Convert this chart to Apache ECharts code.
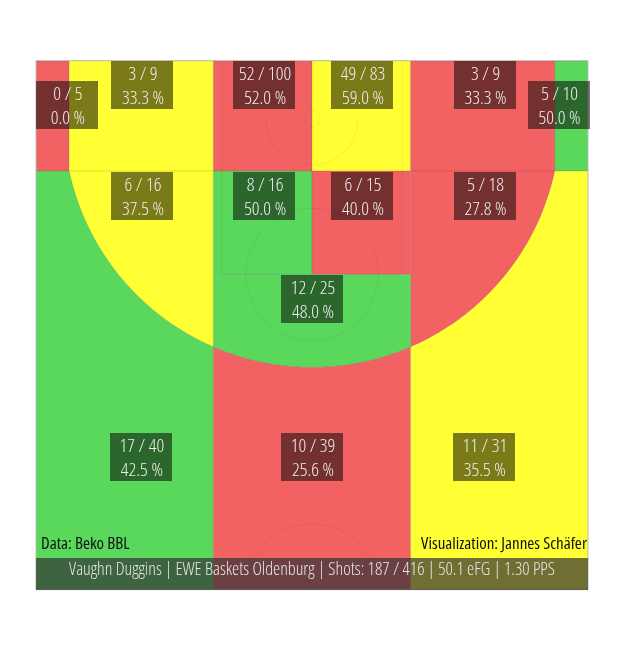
<!DOCTYPE html>
<html><head><meta charset="utf-8">
<script src="https://cdn.jsdelivr.net/npm/echarts@6/dist/echarts.min.js"></script>
<style>html,body{margin:0;padding:0;background:#fff}#c{width:624px;height:654px}</style>
</head><body><div id="c"></div>
<script>
// ---------- data ----------
const zones = ['Left Corner 3','Left Baseline 2','Left Block','Right Block','Right Baseline 2','Right Corner 3',
  'Left Wing 2','Left Elbow','Right Elbow','Right Wing 2','Top Key 2','Left Wing 3','Top 3','Right Wing 3'];
const made     = [0, 3, 52, 49, 3, 5, 6, 8, 6, 5, 12, 17, 10, 11];
const attempts = [5, 9, 100, 83, 9, 10, 16, 16, 15, 18, 25, 40, 39, 31];
const isThree  = [1, 0, 0, 0, 0, 1, 0, 0, 0, 0, 0, 1, 1, 1];
const rating   = ['below','average','below','average','below','above','average','above','below','below','above','above','below','average'];
const player = 'Vaughn Duggins';
const team = 'EWE Baskets Oldenburg';
const pps = '1.30';
const sourceText = 'Data: Beko BBL';
const creditText = 'Visualization: Jannes Schäfer';

// ---------- condensed text rendering (canvas font-stretch) ----------
(function () {
  const d = Object.getOwnPropertyDescriptor(CanvasRenderingContext2D.prototype, 'font');
  if (!d) return;
  Object.defineProperty(CanvasRenderingContext2D.prototype, 'font', {
    configurable: true,
    get() { return d.get.call(this); },
    set(v) { d.set.call(this, v); if ('fontStretch' in this) this.fontStretch = /condensed/.test(v) ? 'condensed' : 'normal'; }
  });
})();

// ---------- styles / geometry ----------
const FONT = (size) => 'condensed 300 ' + size + 'px "Open Sans", sans-serif';
const FONT_REG = (size) => 'condensed 400 ' + size + 'px "Open Sans", sans-serif';
const ratingColor = {below:'#F26263', average:'#FFFF33', above:'#5AD85C'};
const W = 15, L = 14.375, HX = 7.5, HY = 1.575, R3 = 6.75, CX = 0.9, CY = 2.99, XL = 4.82, XR = 10.18, FT = 5.8;
function ang(x, y) { return Math.atan2(y - HY, x - HX); }
const tCL = ang(CX, CY), tCR = ang(W - CX, CY);
const tL = Math.acos((XL - HX) / R3), tR = Math.acos((XR - HX) / R3);
function arc(t0, t1) {
  const n = 60, pts = [];
  for (let k = 0; k <= n; k++) { const t = t0 + (t1 - t0) * k / n; pts.push([HX + R3 * Math.cos(t), HY + R3 * Math.sin(t)]); }
  return pts;
}
function rect(x0, y0, x1, y1) { return [[x0,y0],[x1,y0],[x1,y1],[x0,y1]]; }
const shapes = [
  rect(0, 0, CX, CY),
  rect(CX, 0, XL, CY),
  rect(XL, 0, HX, CY),
  rect(HX, 0, XR, CY),
  rect(XR, 0, W - CX, CY),
  rect(W - CX, 0, W, CY),
  [[CX, CY], [XL, CY]].concat(arc(tL, tCL)),
  rect(XL, CY, HX, FT),
  rect(HX, CY, XR, FT),
  [[XR, CY], [W - CX, CY]].concat(arc(tCR, tR)),
  [[XL, FT], [XR, FT]].concat(arc(tR, tL)),
  [[0, CY]].concat(arc(tCL, tL), [[XL, L], [0, L]]),
  arc(tL, tR).concat([[XR, L], [XL, L]]),
  arc(tR, tCR).concat([[W, CY], [W, L], [XR, L]])
];
const labelAt = [[0.84,1.2],[2.88,0.65],[6.2,0.65],[8.86,0.65],[12.19,0.65],[14.2,1.2],
  [2.88,3.67],[6.2,3.67],[8.86,3.67],[12.19,3.67],[7.5,6.47],[2.85,10.77],[7.5,10.77],[12.17,10.77]];

const totMade = made.reduce((a, b) => a + b, 0);
const totAtt = attempts.reduce((a, b) => a + b, 0);
const threesMade = made.reduce((a, m, i) => a + (isThree[i] ? m : 0), 0);
const efg = ((totMade + 0.5 * threesMade) / totAtt * 100).toFixed(1);
const footerText = `${player} | ${team} | Shots: ${totMade} / ${totAtt} | ${efg} eFG | ${pps} PPS`;

const chart = echarts.init(document.getElementById('c'), null, {renderer: 'canvas'});
const lineCol = 'rgba(0,0,0,0.07)';

chart.setOption({
  animation: false,
  backgroundColor: '#ffffff',
  grid: {left: 36, top: 61, width: 552, height: 529},
  xAxis: {type: 'value', min: 0, max: W, show: false},
  yAxis: {type: 'value', min: 0, max: L, inverse: true, show: false},
  series: [
    {
      type: 'custom', name: 'zones', z: 1,
      data: zones.map((z, i) => [i]),
      renderItem: function (params, api) {
        const i = params.dataIndex;
        return {
          type: 'polygon',
          shape: {points: shapes[i].map(p => api.coord(p))},
          style: {fill: ratingColor[rating[i]], stroke: 'rgba(60,60,60,0.2)', lineWidth: 0.6}
        };
      }
    },
    {
      type: 'custom', name: 'court', z: 2, silent: true,
      data: [[0]],
      renderItem: function (params, api) {
        const c = p => api.coord(p);
        const r = m => api.size([m, 0])[0];
        const hoop = c([HX, HY]);
        const ftc = c([HX, FT]);
        const mid = c([HX, L]);
        const els = [];
        const st = {stroke: lineCol, lineWidth: 0.8, fill: 'none'};
        const ln = (a, b) => els.push({type: 'line', shape: {x1: c(a)[0], y1: c(a)[1], x2: c(b)[0], y2: c(b)[1]}, style: st});
        ln([5.05, 0], [5.05, FT]); ln([9.95, 0], [9.95, FT]); ln([5.05, FT], [9.95, FT]);
        els.push({type: 'circle', shape: {cx: ftc[0], cy: ftc[1], r: r(1.8)}, style: st});
        els.push({type: 'arc', shape: {cx: hoop[0], cy: hoop[1], r: r(1.25), startAngle: 0, endAngle: Math.PI}, style: st});
        els.push({type: 'circle', shape: {cx: hoop[0], cy: hoop[1], r: r(0.225)}, style: st});
        els.push({type: 'arc', shape: {cx: mid[0], cy: mid[1], r: r(1.8), startAngle: Math.PI, endAngle: 2 * Math.PI}, style: st});
        const tl = c([0, 0]), br = c([W, L]);
        els.push({type: 'rect', shape: {x: tl[0], y: tl[1] - 0.5, width: br[0] - tl[0], height: br[1] - tl[1]}, style: {stroke: '#c4c4c4', lineWidth: 1, fill: 'none'}});
        return {type: 'group', children: els};
      }
    },
    {
      type: 'custom', name: 'labels', z: 3, silent: true,
      data: zones.map((z, i) => [i]),
      renderItem: function (params, api) {
        const i = params.dataIndex;
        const p = api.coord(labelAt[i]);
        const pct = (made[i] / attempts[i] * 100).toFixed(1);
        return {
          type: 'group',
          children: [
            {type: 'rect', shape: {x: Math.round(p[0]) - 31, y: Math.round(p[1]) - 24, width: 62, height: 48}, style: {fill: 'rgba(0,0,0,0.52)'}},
            {type: 'text', x: p[0] + 1, y: p[1] + 1.5,
              style: {text: made[i] + ' / ' + attempts[i] + '\n' + pct + ' %', fill: '#eeeeee', font: FONT(19),
                align: 'center', verticalAlign: 'middle', lineHeight: 24}}
          ]
        };
      }
    }
  ],
  graphic: [
    {type: 'text', left: 41, top: 536, z: 100,
      style: {text: sourceText, fill: '#111', font: FONT_REG(17)}},
    {type: 'text', right: 37, top: 536, z: 100,
      style: {text: creditText, fill: '#111', font: FONT_REG(17)}},
    {type: 'rect', left: 36, top: 558, z: 100, shape: {width: 552, height: 32}, style: {fill: 'rgba(50,50,52,0.7)'}},
    {type: 'text', left: 'center', top: 561, z: 101,
      style: {text: footerText, fill: '#e6e6e6', font: FONT(18)}}
  ]
});
</script></body></html>
